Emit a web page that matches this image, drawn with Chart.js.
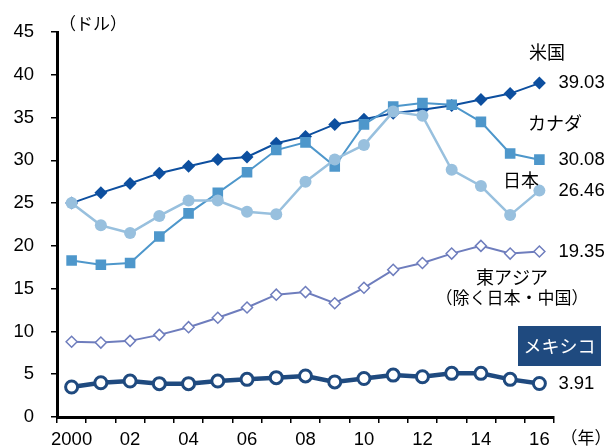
<!DOCTYPE html>
<html>
<head>
<meta charset="utf-8">
<script src="https://cdn.jsdelivr.net/npm/chart.js@4/dist/chart.umd.min.js"></script>
<style>
html,body{margin:0;padding:0;background:#fff;}
#wrap{width:612px;height:448px;position:relative;}
</style>
</head>
<body>
<div id="wrap"><canvas id="c" width="612" height="448"></canvas></div>
<script>
const years = ['2000','2001','2002','2003','2004','2005','2006','2007','2008','2009','2010','2011','2012','2013','2014','2015','2016'];
const tickLabels = ['2000','','02','','04','','06','','08','','10','','12','','14','','16'];
const usValues = [25.0,26.2,27.3,28.5,29.3,30.1,30.4,32.0,32.8,34.2,34.8,35.5,35.9,36.4,37.1,37.8,39.03];
const canadaValues = [18.3,17.8,18.0,21.1,23.8,26.2,28.6,31.2,32.1,29.3,34.2,36.3,36.7,36.5,34.5,30.8,30.08];
const japanValues = [25.0,22.4,21.5,23.5,25.3,25.3,24.0,23.7,27.5,30.1,31.8,35.7,35.2,28.9,27.0,23.6,26.46];
const eastAsiaValues = [8.8,8.7,8.9,9.6,10.5,11.6,12.8,14.3,14.6,13.3,15.1,17.2,18.0,19.1,20.0,19.1,19.35];
const mexicoValues = [3.5,4.0,4.2,3.9,3.9,4.2,4.4,4.6,4.8,4.1,4.5,4.9,4.7,5.1,5.1,4.4,3.91];
const yTicks = [0,5,10,15,20,25,30,35,40,45];

const cUS = '#0D4F9F', cCA = '#4E97CB', cJP = '#98C0DE', cEA = '#6E7DBD', cMX = '#1F4A7F';
const numFont = '"Liberation Sans", Arial, sans-serif';
const jpFont = '"Noto Sans CJK JP", sans-serif';

const labelPlugin = {
  id: 'labels',
  afterDatasetsDraw(chart) {
    const ctx = chart.ctx;
    const xs = chart.scales.x, ys = chart.scales.y;
    const last = years.length - 1;
    const xl = xs.getPixelForValue(last) + 19;
    ctx.save();
    ctx.fillStyle = '#000';
    ctx.textBaseline = 'middle';
    ctx.textAlign = 'left';
    ctx.font = '18.5px ' + numFont;
    [usValues, canadaValues, japanValues, eastAsiaValues, mexicoValues].forEach(arr => {
      const v = arr[last];
      ctx.fillText(v.toFixed(2), xl, ys.getPixelForValue(v));
    });
    ctx.font = '18px ' + jpFont;
    ctx.textAlign = 'center';
    ctx.fillText('米国', 547, 52);
    ctx.fillText('カナダ', 555, 123);
    ctx.fillText('日本', 521, 180);
    ctx.fillText('東アジア', 512, 277);
    ctx.font = '17px ' + jpFont;
    ctx.fillText('（除く日本・中国）', 512, 298);
    ctx.fillText('（ドル）', 93, 24);
    ctx.fillText('（年）', 586, 438);
    ctx.fillStyle = cMX;
    ctx.fillRect(518, 326, 83, 40);
    ctx.fillStyle = '#fff';
    ctx.font = '18px ' + jpFont;
    ctx.fillText('メキシコ', 559.5, 346);
    ctx.restore();
  }
};

new Chart(document.getElementById('c'), {
  type: 'line',
  data: {
    labels: years,
    datasets: [
      {label:'日本', data: japanValues, order: 0, borderColor: cJP, backgroundColor: cJP, borderWidth: 2.5,
       pointStyle:'circle', pointRadius: 6, pointBackgroundColor: cJP, pointBorderColor: cJP, pointBorderWidth: 0},
      {label:'カナダ', data: canadaValues, order: 1, borderColor: cCA, backgroundColor: cCA, borderWidth: 2,
       pointStyle:'rect', pointRadius: 7.5, pointBackgroundColor: cCA, pointBorderColor: cCA, pointBorderWidth: 0},
      {label:'米国', data: usValues, order: 2, borderColor: cUS, backgroundColor: cUS, borderWidth: 2,
       pointStyle:'rectRot', pointRadius: 6.5, pointBackgroundColor: cUS, pointBorderColor: cUS, pointBorderWidth: 0},
      {label:'東アジア', data: eastAsiaValues, order: 3, borderColor: cEA, backgroundColor: '#fff', borderWidth: 2,
       pointStyle:'rectRot', pointRadius: 5.5, pointBackgroundColor: '#fff', pointBorderColor: cEA, pointBorderWidth: 1.5},
      {label:'メキシコ', data: mexicoValues, order: 4, borderColor: cMX, backgroundColor: '#fff', borderWidth: 4.5,
       pointStyle:'circle', pointRadius: 6, pointBackgroundColor: '#fff', pointBorderColor: cMX, pointBorderWidth: 3}
    ]
  },
  options: {
    responsive: false,
    animation: false,
    layout: { padding: { top: 32, right: 58, left: 0, bottom: 0 } },
    plugins: { legend: { display: false }, tooltip: { enabled: false } },
    elements: { line: { tension: 0 } },
    scales: {
      x: {
        type: 'category',
        offset: true,
        grid: { offset: true, drawOnChartArea: false, drawTicks: true, tickLength: 6, color: '#000', lineWidth: 1.5 },
        border: { display: true, color: '#000', width: 3 },
        ticks: {
          autoSkip: false, maxRotation: 0, minRotation: 0, color: '#000', padding: 6,
          font: { family: numFont, size: 18.5 },
          callback: (v, i) => tickLabels[i]
        },
        afterFit: s => { s.height = 31; }
      },
      y: {
        min: 0, max: 45,
        afterBuildTicks: s => { s.ticks = yTicks.map(v => ({ value: v })); },
        grid: { drawOnChartArea: false, drawTicks: true, tickLength: 6, color: '#000', lineWidth: 1.5 },
        border: { display: true, color: '#000', width: 3 },
        ticks: { color: '#000', padding: 17, font: { family: numFont, size: 18.5 } },
        afterFit: s => { s.width = 57; }
      }
    }
  },
  plugins: [labelPlugin]
});
</script>
</body>
</html>
